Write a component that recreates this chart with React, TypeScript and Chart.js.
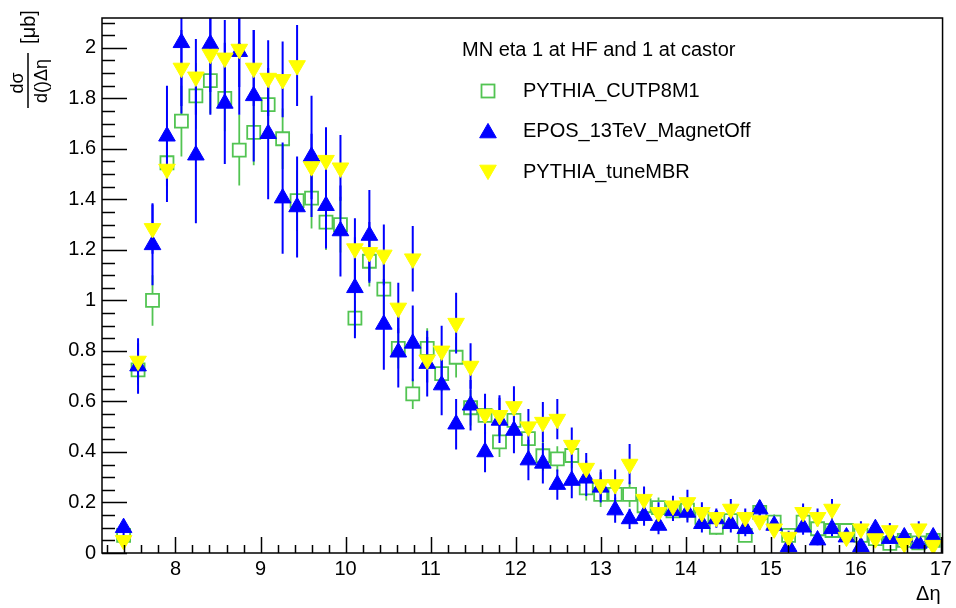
import React, { useEffect, useRef } from "react";
import { Chart, registerables } from "chart.js";

Chart.register(...registerables);

// ---- data ----
const deltaEta = [
  7.39, 7.56, 7.73, 7.90, 8.07, 8.24, 8.41, 8.58, 8.75, 8.92,
  9.09, 9.26, 9.43, 9.60, 9.77, 9.94, 10.11, 10.28, 10.45, 10.62,
  10.79, 10.96, 11.13, 11.30, 11.47, 11.64, 11.81, 11.98, 12.15, 12.32,
  12.49, 12.66, 12.83, 13.00, 13.17, 13.34, 13.51, 13.68, 13.85, 14.02,
  14.19, 14.36, 14.53, 14.70, 14.87, 15.04, 15.21, 15.38, 15.55, 15.72,
  15.89, 16.06, 16.23, 16.40, 16.57, 16.74, 16.91,
];

const pythiaCUTP8M1 = [
  0.07, 0.725, 1.0, 1.545, 1.71, 1.81, 1.87, 1.8, 1.595, 1.665,
  1.775, 1.64, 1.395, 1.405, 1.31, 1.3, 0.93, 1.155, 1.045, 0.81,
  0.63, 0.81, 0.71, 0.775, 0.575, 0.545, 0.44, 0.525, 0.453, 0.385,
  0.373, 0.386, 0.258, 0.232, 0.232, 0.232, 0.187, 0.18, 0.167, 0.17,
  0.141, 0.102, 0.128, 0.07, 0.161, 0.122, 0.07, 0.122, 0.096, 0.089,
  0.089, 0.07, 0.057, 0.038, 0.05, 0.04, 0.05,
];
const pythiaCUTP8M1Err = [
  0.02, 0.06, 0.1, 0.12, 0.14, 0.13, 0.13, 0.13, 0.14, 0.13,
  0.13, 0.12, 0.12, 0.12, 0.11, 0.11, 0.07, 0.1, 0.1, 0.08,
  0.06, 0.08, 0.07, 0.08, 0.07, 0.06, 0.06, 0.06, 0.06, 0.06,
  0.05, 0.05, 0.05, 0.05, 0.05, 0.05, 0.04, 0.04, 0.04, 0.04,
  0.035, 0.03, 0.03, 0.025, 0.035, 0.03, 0.025, 0.03, 0.025, 0.025,
  0.025, 0.02, 0.02, 0.02, 0.02, 0.02, 0.02,
];

const eposMagnetOff = [
  0.1, 0.74, 1.22, 1.65, 2.02, 1.575, 2.015, 1.78, 1.985, 1.81,
  1.66, 1.405, 1.37, 1.57, 1.375, 1.275, 1.05, 1.257, 0.905, 0.795,
  0.83, 0.75, 0.665, 0.51, 0.585, 0.4, 0.525, 0.485, 0.368, 0.355,
  0.271, 0.287, 0.296, 0.26, 0.17, 0.135, 0.148, 0.109, 0.167, 0.161,
  0.116, 0.135, 0.116, 0.096, 0.174, 0.109, 0.025, 0.102, 0.051, 0.096,
  0.063, 0.025, 0.096, 0.057, 0.063, 0.038, 0.063,
];
const eposMagnetOffErr = [
  0.03, 0.11, 0.16, 0.2, 0.28, 0.27, 0.28, 0.24, 0.25, 0.26,
  0.26, 0.22, 0.2, 0.24, 0.17, 0.18, 0.2, 0.18, 0.18, 0.14,
  0.15, 0.13, 0.12, 0.1, 0.1, 0.08, 0.09, 0.09, 0.08, 0.08,
  0.06, 0.07, 0.07, 0.06, 0.05, 0.04, 0.04, 0.035, 0.04, 0.04,
  0.035, 0.035, 0.035, 0.03, 0.035, 0.03, 0.02, 0.03, 0.02, 0.03,
  0.025, 0.02, 0.03, 0.02, 0.025, 0.02, 0.025,
];

const pythiaTuneMBR = [
  0.05, 0.76, 1.285, 1.52, 1.92, 1.885, 1.975, 1.96, 1.995, 1.92,
  1.88, 1.875, 1.93, 1.53, 1.555, 1.525, 1.205, 1.19, 1.18, 0.97,
  1.165, 0.765, 0.8, 0.91, 0.74, 0.55, 0.545, 0.58, 0.5, 0.518,
  0.53, 0.427, 0.336, 0.271, 0.271, 0.352, 0.213, 0.161, 0.187, 0.2,
  0.161, 0.141, 0.174, 0.141, 0.128, 0.096, 0.063, 0.161, 0.141, 0.174,
  0.063, 0.096, 0.057, 0.089, 0.038, 0.096, 0.031,
];
const pythiaTuneMBRErr = [
  0.02, 0.07, 0.1, 0.13, 0.15, 0.15, 0.15, 0.15, 0.15, 0.15,
  0.15, 0.15, 0.16, 0.13, 0.13, 0.13, 0.12, 0.12, 0.12, 0.1,
  0.13, 0.09, 0.1, 0.12, 0.09, 0.08, 0.08, 0.08, 0.07, 0.08,
  0.08, 0.07, 0.06, 0.06, 0.06, 0.08, 0.05, 0.04, 0.04, 0.05,
  0.04, 0.035, 0.04, 0.035, 0.035, 0.03, 0.025, 0.035, 0.035, 0.04,
  0.025, 0.03, 0.02, 0.03, 0.02, 0.03, 0.02,
];

const seriesNames = ["PYTHIA_CUTP8M1", "EPOS_13TeV_MagnetOff", "PYTHIA_tuneMBR"];
const legendHeader = "MN eta 1 at HF and 1 at castor";
const xTickValues = [8, 9, 10, 11, 12, 13, 14, 15, 16, 17];
const xTickLabels = ["8", "9", "10", "11", "12", "13", "14", "15", "16", "17"];
const yTickValues = [0, 0.2, 0.4, 0.6, 0.8, 1, 1.2, 1.4, 1.6, 1.8, 2];
const yTickLabels = ["0", "0.2", "0.4", "0.6", "0.8", "1", "1.2", "1.4", "1.6", "1.8", "2"];
const xTitle = "Δη";

// ---- styles ----
const FONT = "'Liberation Sans', Arial, Helvetica, sans-serif";
const GREEN = "#52c452";
const BLUE = "#0000ff";
const YELLOW = "#ffff00";
const TRI_R = 9.6;
const SQ_R = 9.2;

function drawMarker(ctx: CanvasRenderingContext2D, kind: string, x: number, y: number) {
  ctx.save();
  if (kind === "square") {
    const s = SQ_R * Math.SQRT1_2;
    ctx.strokeStyle = GREEN;
    ctx.lineWidth = 1.8;
    ctx.strokeRect(x - s, y - s, 2 * s, 2 * s);
  } else {
    const up = kind === "up";
    const color = up ? BLUE : YELLOW;
    const r = TRI_R;
    const w = (r * Math.sqrt(3)) / 2;
    ctx.fillStyle = color;
    ctx.strokeStyle = color;
    ctx.lineWidth = 1;
    ctx.beginPath();
    if (up) {
      ctx.moveTo(x, y - r);
      ctx.lineTo(x + w, y + r / 2);
      ctx.lineTo(x - w, y + r / 2);
    } else {
      ctx.moveTo(x, y + r);
      ctx.lineTo(x + w, y - r / 2);
      ctx.lineTo(x - w, y - r / 2);
    }
    ctx.closePath();
    ctx.fill();
    ctx.stroke();
  }
  ctx.restore();
}

const errorBarPlugin = {
  id: "errorBars",
  beforeDatasetDraw(chart: any, args: any) {
    const ds: any = chart.data.datasets[args.index];
    const meta = args.meta;
    const ctx: CanvasRenderingContext2D = chart.ctx;
    const ys = chart.scales.y;
    const a = chart.chartArea;
    ctx.save();
    ctx.beginPath();
    ctx.rect(a.left, a.top, a.right - a.left, a.bottom - a.top);
    ctx.clip();
    ctx.strokeStyle = ds.errorColor;
    ctx.lineWidth = ds.errorWidth;
    meta.data.forEach((pt: any, i: number) => {
      const v = ds.data[i].y;
      const e = ds.errors[i];
      const top = ys.getPixelForValue(v + e);
      const bot = ys.getPixelForValue(v - e);
      const x = pt.x;
      const y = pt.y;
      ctx.beginPath();
      if (ds.errorGap) {
        const g = ds.errorGap;
        if (top < y - g) {
          ctx.moveTo(x, top);
          ctx.lineTo(x, y - g);
        }
        if (bot > y + g) {
          ctx.moveTo(x, y + g);
          ctx.lineTo(x, bot);
        }
      } else {
        ctx.moveTo(x, top);
        ctx.lineTo(x, bot);
      }
      ctx.stroke();
    });
    ctx.restore();
  },
};

const framePlugin = {
  id: "rootFrame",
  afterDraw(chart: any) {
    const ctx: CanvasRenderingContext2D = chart.ctx;
    const a = chart.chartArea;
    const xs = chart.scales.x;
    const ys = chart.scales.y;
    ctx.save();
    ctx.strokeStyle = "#000";
    ctx.lineWidth = 1.5;
    ctx.strokeRect(a.left, a.top, a.right - a.left, a.bottom - a.top);

    // x ticks (inside, upward)
    ctx.lineWidth = 1.5;
    ctx.beginPath();
    for (let k = 36; k <= 85; k++) {
      const v = k / 5;
      if (v < xs.min || v > xs.max) continue;
      const px = Math.round(xs.getPixelForValue(v)) + 0.5;
      const major = k % 5 === 0;
      ctx.moveTo(px, a.bottom);
      ctx.lineTo(px, a.bottom - (major ? 16 : 8));
    }
    ctx.stroke();

    // y ticks (inside, rightward)
    ctx.beginPath();
    for (let k = 0; k <= 42; k++) {
      const v = k / 20;
      if (v > ys.max) continue;
      const py = Math.round(ys.getPixelForValue(v)) + 0.5;
      const major = k % 4 === 0;
      ctx.moveTo(a.left, py);
      ctx.lineTo(a.left + (major ? 25 : 13), py);
    }
    ctx.stroke();

    // x title
    ctx.fillStyle = "#000";
    ctx.font = `20px ${FONT}`;
    ctx.textAlign = "right";
    ctx.textBaseline = "alphabetic";
    ctx.fillText(xTitle, a.right - 2, 600);

    // y title: dσ / d()Δη [μb], rotated
    ctx.save();
    ctx.translate(28, 80);
    ctx.rotate(-Math.PI / 2);
    ctx.textAlign = "center";
    ctx.textBaseline = "middle";
    ctx.font = `18px ${FONT}`;
    ctx.fillText("dσ", -3, -10);
    ctx.fillText("d()Δη", -1, 14);
    ctx.lineWidth = 1.5;
    ctx.beginPath();
    ctx.moveTo(-28, 0);
    ctx.lineTo(27, 0);
    ctx.stroke();
    ctx.font = `20px ${FONT}`;
    ctx.fillText("[μb]", 53, 1);
    ctx.restore();

    // legend
    ctx.font = `20px ${FONT}`;
    ctx.textAlign = "left";
    ctx.textBaseline = "middle";
    ctx.fillStyle = "#000";
    ctx.fillText(legendHeader, 462, 50);
    const kinds = ["square", "up", "down"];
    const rowsY = [91, 131, 172];
    seriesNames.forEach((name, i) => {
      drawMarker(ctx, kinds[i], 488, rowsY[i] + (kinds[i] === "up" ? 2 : kinds[i] === "down" ? -2 : 0));
      ctx.fillStyle = "#000";
      ctx.fillText(name, 523, rowsY[i]);
    });
    ctx.restore();
  },
};

function toPoints(values: number[]) {
  return deltaEta.map((x, i) => ({ x, y: values[i] }));
}

export default function App() {
  const ref = useRef<HTMLCanvasElement>(null);
  useEffect(() => {
    const canvas = ref.current;
    if (!canvas) return;
    const chart = new Chart(canvas, {
      type: "scatter",
      data: {
        datasets: [
          {
            label: seriesNames[2],
            data: toPoints(pythiaTuneMBR),
            errors: pythiaTuneMBRErr,
            errorColor: BLUE,
            errorWidth: 2,
            order: 0,
            pointStyle: "triangle",
            rotation: 180,
            pointRadius: TRI_R,
            pointBackgroundColor: YELLOW,
            pointBorderColor: YELLOW,
            pointBorderWidth: 1,
            showLine: false,
          } as any,
          {
            label: seriesNames[1],
            data: toPoints(eposMagnetOff),
            errors: eposMagnetOffErr,
            errorColor: BLUE,
            errorWidth: 2,
            order: 1,
            pointStyle: "triangle",
            pointRadius: TRI_R,
            pointBackgroundColor: BLUE,
            pointBorderColor: BLUE,
            pointBorderWidth: 1,
            showLine: false,
          } as any,
          {
            label: seriesNames[0],
            data: toPoints(pythiaCUTP8M1),
            errors: pythiaCUTP8M1Err,
            errorColor: GREEN,
            errorWidth: 1.8,
            errorGap: 6.5,
            order: 2,
            pointStyle: "rect",
            pointRadius: SQ_R,
            pointBackgroundColor: "rgba(0,0,0,0)",
            pointBorderColor: GREEN,
            pointBorderWidth: 1.8,
            showLine: false,
          } as any,
        ],
      },
      options: {
        responsive: false,
        animation: false,
        events: [],
        layout: { padding: { top: 9, right: 11, left: 0, bottom: 0 } },
        plugins: {
          legend: { display: false },
          tooltip: { enabled: false },
          title: { display: false },
        },
        scales: {
          x: {
            type: "linear",
            min: 7.136,
            max: 17.02,
            grid: { display: false, drawTicks: false },
            border: { display: false },
            afterBuildTicks: (scale: any) => {
              scale.ticks = xTickValues.map((value) => ({ value }));
            },
            afterFit: (scale: any) => {
              scale.height = 55;
            },
            ticks: {
              autoSkip: false,
              maxRotation: 0,
              padding: 4,
              color: "#000",
              font: { family: FONT, size: 20 },
              callback: (_v: any, i: number) => xTickLabels[i],
            },
          },
          y: {
            type: "linear",
            min: 0,
            max: 2.118,
            grid: { display: false, drawTicks: false },
            border: { display: false },
            afterBuildTicks: (scale: any) => {
              scale.ticks = yTickValues.map((value) => ({ value }));
            },
            afterFit: (scale: any) => {
              scale.width = 102;
            },
            ticks: {
              autoSkip: false,
              padding: 6,
              color: "#000",
              font: { family: FONT, size: 20 },
              callback: (_v: any, i: number) => yTickLabels[i],
            },
          },
        },
      },
      plugins: [errorBarPlugin, framePlugin],
    } as any);
    return () => chart.destroy();
  }, []);

  return (
    <div style={{ position: "fixed", left: 0, top: 0, width: 956, height: 608, background: "#fff" }}>
      <canvas ref={ref} width={956} height={608} style={{ display: "block", width: 956, height: 608 }} />
    </div>
  );
}
